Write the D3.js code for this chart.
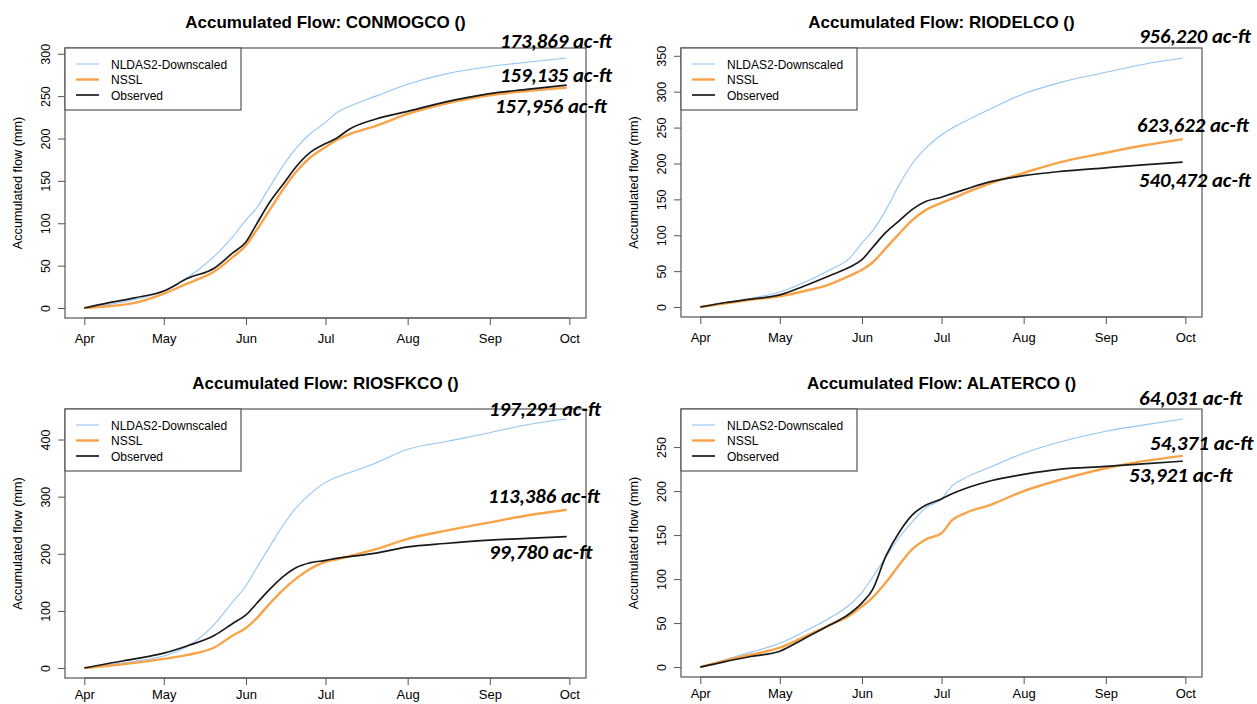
<!DOCTYPE html>
<html>
<head>
<meta charset="utf-8">
<script src="https://cdn.jsdelivr.net/npm/d3@7"></script>
<style>
  body { margin: 0; background: #fff; }
  svg { display: block; }
  text { font-family: "Liberation Sans", Arial, Helvetica, sans-serif; fill: #000; }
  .vol { font-family: Carlito, Calibri, "Open Sans", sans-serif; font-weight: bold; font-style: italic; }
</style>
</head>
<body>
<svg width="1257" height="704"></svg>
<script>
// sample dates (month-day) shared by all series
const dates = ['04-01', '04-10', '04-20', '05-01', '05-10', '05-20', '05-27', '06-01', '06-05', '06-10', '06-15',
  '06-20', '06-25', '07-01', '07-05', '07-10', '07-20', '08-01', '08-15', '09-01', '09-15', '09-30']

const sites = ['CONMOGCO', 'RIODELCO', 'RIOSFKCO', 'ALATERCO']
const seriesNames = ['NLDAS2-Downscaled', 'NSSL', 'Observed']

// accumulated flow (mm)
const nldasConmogco = [0, 4, 10, 20, 36, 61, 84, 104, 118, 143, 168, 189, 205, 219, 230, 238, 250, 264, 276, 285, 290, 295]
const nsslConmogco = [0, 2, 6, 17, 29, 43, 60, 74, 92, 116, 140, 161, 177, 190, 198, 205, 215, 229, 241, 251, 256, 260]
const obsConmogco = [0, 6, 12, 20, 35, 47, 65, 78, 99, 125, 146, 167, 183, 194, 200, 211, 223, 232, 243, 253, 258, 263]

const nldasRiodelco = [0, 6, 12, 21, 34, 52, 67, 89, 106, 135, 170, 200, 221, 240, 249, 259, 277, 297, 313, 327, 338, 347]
const nsslRiodelco = [0, 5, 10, 15, 22, 32, 43, 52, 62, 82, 102, 121, 135, 145, 151, 159, 173, 187, 202, 215, 225, 234]
const obsRiodelco = [0, 6, 11, 17, 29, 44, 55, 66, 83, 104, 120, 136, 147, 153, 158, 164, 175, 183, 189, 194, 198, 202]

const nldasRiosfkco = [0, 6, 12, 21, 38, 76, 116, 144, 175, 213, 250, 281, 304, 325, 334, 342, 359, 383, 396, 412, 426, 436]
const nsslRiosfkco = [0, 4, 9, 16, 23, 36, 57, 70, 87, 113, 137, 157, 173, 186, 190, 196, 208, 226, 240, 255, 267, 277]
const obsRiosfkco = [0, 8, 16, 26, 39, 57, 78, 93, 113, 138, 160, 176, 184, 188.5, 192, 195, 201, 212, 218, 224, 227, 230]

const nldasAlaterco = [0, 8, 17, 27, 40, 56, 70, 85, 102, 125, 147, 165, 181, 191, 206, 215, 228, 243, 256, 268, 275, 282]
const nsslAlaterco = [0, 7, 14, 22, 34, 48, 58, 69, 79, 96, 116, 134, 145, 152, 167, 175, 185, 200, 213, 226, 234, 240]
const obsAlaterco = [0, 6, 12, 18, 32, 48, 60, 73, 88, 126, 153, 173, 184, 191, 197, 203, 212, 219, 225, 228, 231, 234]

// end-of-season volumes written on each panel (NLDAS, NSSL, Observed order as shown)
const volConmogco = ['173,869 ac-ft', '159,135 ac-ft', '157,956 ac-ft']
const volRiodelco = ['956,220 ac-ft', '623,622 ac-ft', '540,472 ac-ft']
const volRiosfkco = ['197,291 ac-ft', '113,386 ac-ft', '99,780 ac-ft']
const volAlaterco = ['64,031 ac-ft', '54,371 ac-ft', '53,921 ac-ft']

const monthTicks = ['04-01', '05-01', '06-01', '07-01', '08-01', '09-01', '10-01']
const monthLabels = ['Apr', 'May', 'Jun', 'Jul', 'Aug', 'Sep', 'Oct']
const yTicksConmogco = [0, 50, 100, 150, 200, 250, 300]
const yTicksRiodelco = [0, 50, 100, 150, 200, 250, 300, 350]
const yTicksRiosfkco = [0, 100, 200, 300, 400]
const yTicksAlaterco = [0, 50, 100, 150, 200, 250]

const parse = d3.timeParse('%Y-%m-%d')
const toDate = (md) => parse('2018-' + md)

const panels = [
  { site: sites[0], series: [nldasConmogco, nsslConmogco, obsConmogco], vols: volConmogco, yTicks: yTicksConmogco,
    box: [65, 48, 586, 318], volPos: [[435, 0], [435, 34], [430, 65]] },
  { site: sites[1], series: [nldasRiodelco, nsslRiodelco, obsRiodelco], vols: volRiodelco, yTicks: yTicksRiodelco,
    box: [681, 48, 1202, 317], volPos: [[458, -5], [456, 84], [458, 139]] },
  { site: sites[2], series: [nldasRiosfkco, nsslRiosfkco, obsRiosfkco], vols: volRiosfkco, yTicks: yTicksRiosfkco,
    box: [65, 409, 586, 678], volPos: [[424, 7], [423, 94], [424, 150]] },
  { site: sites[3], series: [nldasAlaterco, nsslAlaterco, obsAlaterco], vols: volAlaterco, yTicks: yTicksAlaterco,
    box: [681, 409, 1202, 677], volPos: [[458, -4], [469, 41], [448, 73]] },
]

const colors = ['#94c5f5', '#f9a349', '#1a1a1a']
const widths = [1.1, 2.4, 1.7]
const boxColor = '#555'

const svg = d3.select('svg')

panels.forEach((p) => {
  const [x0, y0, x1, y1] = p.box
  const g = svg.append('g').attr('transform', `translate(${x0},${y0})`)
  const w = x1 - x0
  const h = y1 - y0

  // R-style 4% axis expansion
  const t0 = toDate(dates[0]).getTime()
  const t1 = toDate(dates[dates.length - 1]).getTime()
  const tpad = (t1 - t0) * 0.04
  const x = d3.scaleTime().domain([new Date(t0 - tpad), new Date(t1 + tpad)]).range([0, w])
  const ymax = d3.max(p.series, (s) => d3.max(s))
  const y = d3.scaleLinear().domain([-0.04 * ymax, 1.04 * ymax]).range([h, 0])

  // x axis; the bottom row sits close to the page edge, so its labels ride a bit higher
  const xAxis = d3.axisBottom(x)
    .tickValues(monthTicks.map(toDate))
    .tickFormat((d, i) => monthLabels[i])
    .tickSize(7)
    .tickPadding(y0 > 300 ? 5 : 9)
  const gx = g.append('g').attr('transform', `translate(0,${h})`).call(xAxis)
  gx.select('.domain').remove()
  gx.selectAll('.tick line').attr('stroke', boxColor)
  gx.selectAll('.tick text').attr('font-size', 13).attr('font-family', null)
  gx.append('line')
    .attr('x1', x(toDate(monthTicks[0]))).attr('x2', x(toDate(monthTicks[monthTicks.length - 1])))
    .attr('stroke', boxColor)

  // y axis (labels parallel to axis, as R does)
  const yAxis = d3.axisLeft(y).tickValues(p.yTicks).tickSize(7).tickFormat(d3.format('d'))
  const gy = g.append('g').call(yAxis)
  gy.select('.domain').remove()
  gy.selectAll('.tick line').attr('stroke', boxColor)
  gy.selectAll('.tick text')
    .attr('font-size', 12.5)
    .attr('font-family', null)
    .attr('text-anchor', 'middle')
    .attr('x', null)
    .attr('dy', null)
    .attr('transform', 'translate(-15,0) rotate(-90)')

  g.append('text')
    .attr('transform', `translate(-43,${h / 2}) rotate(-90)`)
    .attr('text-anchor', 'middle')
    .attr('font-size', 12.7)
    .text('Accumulated flow (mm)')

  // title
  g.append('text')
    .attr('x', w / 2)
    .attr('y', -20)
    .attr('text-anchor', 'middle')
    .attr('font-size', 17)
    .attr('font-weight', 'bold')
    .text(`Accumulated Flow: ${p.site} ()`)

  // series
  const line = d3.line()
    .x((d, i) => x(toDate(dates[i])))
    .y((d) => y(d))
    .curve(d3.curveMonotoneX)
  p.series.forEach((s, k) => {
    g.append('path')
      .datum(s)
      .attr('fill', 'none')
      .attr('stroke', colors[k])
      .attr('stroke-width', widths[k])
      .attr('stroke-linejoin', 'round')
      .attr('d', line)
  })

  // plot box
  g.append('rect')
    .attr('width', w).attr('height', h)
    .attr('fill', 'none').attr('stroke', boxColor).attr('stroke-width', 1.2)

  // legend
  const lg = g.append('g')
  lg.append('rect')
    .attr('width', 176).attr('height', 62)
    .attr('fill', '#fff').attr('stroke', boxColor).attr('stroke-width', 1.2)
  seriesNames.forEach((name, k) => {
    const ly = 16 + k * 15.5
    lg.append('line')
      .attr('x1', 11).attr('x2', 34).attr('y1', ly).attr('y2', ly)
      .attr('stroke', colors[k]).attr('stroke-width', widths[k])
    lg.append('text')
      .attr('x', 46).attr('y', ly + 4.5)
      .attr('font-size', 12)
      .text(name)
  })

  // volume annotations
  p.vols.forEach((v, k) => {
    g.append('text')
      .attr('class', 'vol')
      .attr('x', p.volPos[k][0])
      .attr('y', p.volPos[k][1])
      .attr('font-size', 21)
      .attr('textLength', v.length * 8.6)
      .attr('lengthAdjust', 'spacingAndGlyphs')
      .text(v)
  })
})
</script>
</body>
</html>
